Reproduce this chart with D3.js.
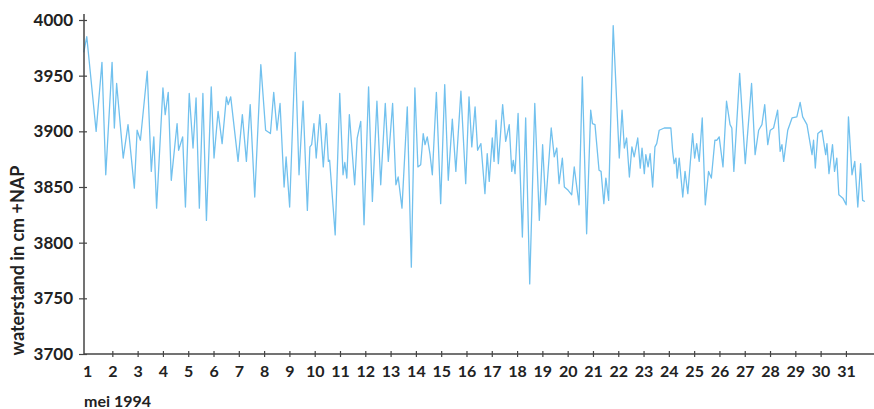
<!DOCTYPE html>
<html>
<head>
<meta charset="utf-8">
<script src="https://cdn.jsdelivr.net/npm/d3@7"></script>
<style>
    body { margin: 0; background: #fff; }
    #grafiek { width: 874px; height: 409px; }
    text { font-family: Lato, "Open Sans", sans-serif; fill: #222; }
</style>
</head>
<body>
<div id="grafiek"></div>
<script>
// tijdstip in dagen (mei 1994) en waterstand in cm +NAP
const dagen = [
    0.87, 0.99, 1.36, 1.59, 1.74, 1.99, 2.08, 2.17, 2.43, 2.62, 2.87, 2.98, 3.11, 3.38, 3.54, 3.64, 3.75,
    4.00, 4.09, 4.21, 4.33, 4.56, 4.62, 4.78, 4.89, 5.04, 5.19, 5.31, 5.44, 5.58, 5.72, 5.91, 6.02,
    6.18, 6.34, 6.51, 6.58, 6.68, 6.97, 7.14, 7.30, 7.45, 7.63, 7.87, 8.06, 8.25, 8.38, 8.51, 8.63,
    8.79, 8.87, 9.01, 9.23, 9.38, 9.54, 9.71, 9.81, 9.88, 9.97, 10.06, 10.20, 10.34, 10.46, 10.54,
    10.59, 10.81, 10.99, 11.12, 11.19, 11.27, 11.37, 11.58, 11.68, 11.82, 11.95, 12.13, 12.28, 12.46,
    12.61, 12.79, 12.91, 13.08, 13.21, 13.30, 13.45, 13.66, 13.82, 13.96, 14.08, 14.19, 14.29, 14.36,
    14.45, 14.56, 14.65, 14.81, 14.98, 15.14, 15.28, 15.44, 15.58, 15.78, 15.97, 16.10, 16.21, 16.34,
    16.44, 16.57, 16.73, 16.82, 16.90, 17.02, 17.09, 17.17, 17.26, 17.43, 17.55, 17.69, 17.79, 17.85,
    17.92, 18.04, 18.21, 18.34, 18.50, 18.70, 18.88, 19.01, 19.13, 19.35, 19.47, 19.57, 19.66, 19.79,
    19.87, 20.02, 20.16, 20.26, 20.45, 20.58, 20.75, 20.91, 20.98, 21.08, 21.24, 21.32, 21.43, 21.51,
    21.62, 21.80, 22.04, 22.15, 22.24, 22.33, 22.44, 22.54, 22.63, 22.77, 22.87, 22.94, 23.03, 23.09,
    23.18, 23.26, 23.36, 23.45, 23.52, 23.62, 23.82, 24.08, 24.15, 24.21, 24.28, 24.33, 24.41, 24.55,
    24.64, 24.75, 24.94, 25.02, 25.10, 25.20, 25.32, 25.44, 25.57, 25.68, 25.82, 25.90, 25.99, 26.14,
    26.28, 26.42, 26.49, 26.57, 26.80, 27.02, 27.27, 27.41, 27.55, 27.68, 27.79, 27.91, 28.01, 28.14,
    28.30, 28.40, 28.47, 28.54, 28.70, 28.87, 29.06, 29.19, 29.29, 29.46, 29.66, 29.72, 29.79, 29.89,
    30.05, 30.20, 30.25, 30.33, 30.47, 30.55, 30.64, 30.72, 30.88, 31.01, 31.10, 31.24, 31.35, 31.47,
    31.58, 31.66, 31.75
];
const waterstand = [
    3971, 3985, 3900, 3962, 3861, 3962, 3903, 3943, 3876, 3906, 3849, 3901, 3892, 3954, 3864, 3895, 3831,
    3939, 3915, 3935, 3856, 3907, 3883, 3895, 3832, 3934, 3885, 3930, 3831, 3934, 3820, 3940, 3876,
    3918, 3889, 3931, 3924, 3931, 3873, 3915, 3873, 3924, 3841, 3960, 3901, 3898, 3935, 3901, 3925,
    3850, 3877, 3832, 3971, 3861, 3927, 3829, 3886, 3888, 3907, 3876, 3915, 3868, 3907, 3873,
    3874, 3807, 3934, 3861, 3872, 3858, 3915, 3852, 3894, 3909, 3816, 3940, 3837, 3927,
    3852, 3925, 3873, 3925, 3852, 3859, 3831, 3922, 3778, 3939, 3868, 3870, 3898, 3888,
    3895, 3879, 3861, 3935, 3835, 3942, 3856, 3911, 3864, 3936, 3853, 3931, 3886, 3922,
    3883, 3889, 3844, 3880, 3855, 3894, 3873, 3910, 3871, 3924, 3891, 3906, 3864, 3874,
    3862, 3916, 3805, 3912, 3763, 3925, 3820, 3888, 3834, 3903, 3877, 3885, 3853, 3876,
    3850, 3847, 3843, 3868, 3834, 3949, 3808, 3919, 3907, 3906, 3865, 3864, 3835, 3858,
    3838, 3995, 3876, 3919, 3885, 3894, 3859, 3886, 3877, 3894, 3867, 3885, 3862, 3879,
    3868, 3880, 3850, 3886, 3889, 3901, 3903, 3903, 3882, 3871, 3876, 3858, 3876, 3841,
    3864, 3844, 3898, 3876, 3889, 3873, 3912, 3834, 3864, 3858, 3892, 3892, 3895, 3868,
    3927, 3906, 3903, 3864, 3952, 3871, 3943, 3879, 3901, 3906, 3924, 3888, 3901, 3903,
    3919, 3882, 3888, 3873, 3901, 3912, 3913, 3926, 3913, 3906, 3879, 3892, 3867, 3898,
    3901, 3879, 3889, 3862, 3888, 3864, 3876, 3843, 3840, 3834, 3913, 3861, 3873, 3832,
    3871, 3838, 3837
];

const yTicks = [3700, 3750, 3800, 3850, 3900, 3950, 4000];
const xTicks = d3.range(1, 32);

const width = 874;
const height = 409;
const margin = { top: 20, left: 84, bottom: 55 };

const svg = d3.select("#grafiek")
    .append("svg")
    .attr("width", width)
    .attr("height", height);

// schalen: dag 1 valt net rechts van de y-as
const x = d3.scaleLinear()
    .domain([0.88, 32.11])
    .range([margin.left, width]);

const y = d3.scaleLinear()
    .domain([3700, 4000])
    .range([height - margin.bottom, margin.top]);

const punten = dagen.map((d, i) => ({ dag: d, waarde: waterstand[i] }));

// lijn
const lijn = d3.line()
    .x(d => x(d.dag))
    .y(d => y(d.waarde));

svg.append("path")
    .datum(punten)
    .attr("fill", "none")
    .attr("stroke", "#72c1ee")
    .attr("stroke-width", 1.3)
    .attr("stroke-linejoin", "round")
    .attr("d", lijn);

// y-as
const yAxis = svg.append("g")
    .attr("transform", `translate(${margin.left},0)`)
    .call(d3.axisLeft(y).tickValues(yTicks).tickSize(5).tickPadding(6).tickFormat(d3.format("d")));

yAxis.select(".domain")
    .attr("d", `M0,${margin.top - 6}V${height - margin.bottom}`)
    .attr("stroke", "#444")
    .attr("stroke-width", 1.5);
yAxis.selectAll(".tick line")
    .attr("x1", 3)
    .attr("x2", -5)
    .attr("stroke", "#444")
    .attr("stroke-width", 1.2);
yAxis.selectAll(".tick text")
    .style("font-size", "17px")
    .style("font-weight", "700");

// x-as
const xAxis = svg.append("g")
    .attr("transform", `translate(0,${height - margin.bottom})`)
    .call(d3.axisBottom(x).tickValues(xTicks).tickSize(3).tickPadding(9).tickFormat(d3.format("d")));

xAxis.select(".domain")
    .attr("d", `M${margin.left},0H${width}`)
    .attr("stroke", "#444")
    .attr("stroke-width", 1.5);
xAxis.selectAll(".tick line")
    .attr("y1", -3)
    .attr("y2", 3)
    .attr("stroke", "#444")
    .attr("stroke-width", 1.2);
xAxis.selectAll(".tick text")
    .style("font-size", "16px")
    .style("font-weight", "700");
// de eerste tick valt samen met de as
xAxis.selectAll(".tick line").filter(d => d === 1).remove();

// astitels
svg.append("text")
    .attr("transform", `translate(24,${y(3784)}) rotate(-90)`)
    .attr("text-anchor", "middle")
    .style("font-size", "18px")
    .style("font-weight", "700")
    .text("waterstand in cm +NAP");

svg.append("text")
    .attr("x", margin.left)
    .attr("y", 407)
    .style("font-size", "16px")
    .style("font-weight", "700")
    .text("mei 1994");
</script>
</body>
</html>
